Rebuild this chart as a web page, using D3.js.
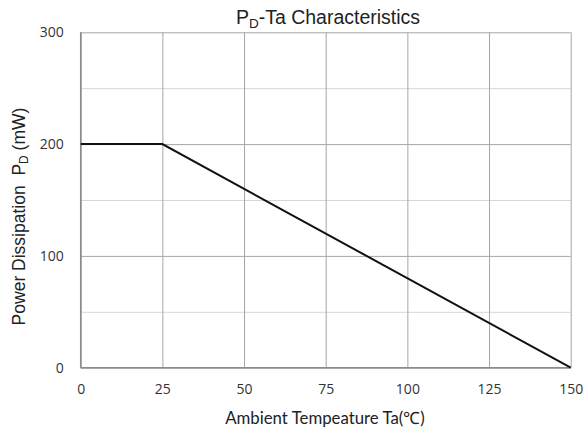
<!DOCTYPE html>
<html>
<head>
<meta charset="utf-8">
<script src="https://cdn.jsdelivr.net/npm/d3@7"></script>
<style>
  body { margin: 0; background: #fff; }
  .tick text { fill: #333; }
</style>
</head>
<body>
<div class="chart"></div>
<script>
// derating curve
const temps = [0, 25, 150];
const power = [200, 200, 0];
const xTicks = [0, 25, 50, 75, 100, 125, 150];
const yTicks = [0, 100, 200, 300];
const yGrid = [50, 150, 250];

const svgWidth = 586;
const svgHeight = 433;
const margin = { top: 32.3, right: 15.3, bottom: 65.3, left: 80.7 };
const width = svgWidth - margin.left - margin.right;
const height = svgHeight - margin.top - margin.bottom;

const svg = d3.select('.chart')
    .append('svg')
    .attr('width', svgWidth)
    .attr('height', svgHeight);

const g = svg.append('g')
    .attr('transform', `translate(${margin.left},${margin.top})`);

const x = d3.scaleLinear().domain([0, 150]).range([0, width]);
const y = d3.scaleLinear().domain([0, 300]).range([height, 0]);

// minor horizontal grid
g.append('g')
    .call(d3.axisLeft(y).tickValues(yGrid).tickSize(-width).tickFormat(''))
    .call(a => a.select('.domain').remove())
    .selectAll('line').attr('stroke', '#d6d6d6');

// major horizontal grid
g.append('g')
    .call(d3.axisLeft(y).tickValues(yTicks).tickSize(-width).tickFormat(''))
    .call(a => a.select('.domain').remove())
    .selectAll('line').attr('stroke', '#a6a6a6');

// vertical grid
g.append('g')
    .attr('transform', `translate(0,${height})`)
    .call(d3.axisBottom(x).tickValues(xTicks).tickSize(-height).tickFormat(''))
    .call(a => a.select('.domain').remove())
    .selectAll('line').attr('stroke', '#a6a6a6');

// axis lines
g.append('line').attr('x1', 0).attr('x2', 0).attr('y1', 0).attr('y2', height)
    .attr('stroke', '#8c8c8c').attr('stroke-width', 1.5);
g.append('line').attr('x1', 0).attr('x2', width).attr('y1', height).attr('y2', height)
    .attr('stroke', '#8c8c8c').attr('stroke-width', 1.5);

// tick labels
g.append('g')
    .attr('transform', `translate(0,${height})`)
    .call(d3.axisBottom(x).tickValues(xTicks).tickSize(0).tickPadding(16))
    .call(a => a.select('.domain').remove())
    .selectAll('text')
    .style('font-family', 'Open Sans')
    .style('font-size', '14px');

g.append('g')
    .call(d3.axisLeft(y).tickValues(yTicks).tickSize(0).tickPadding(17))
    .call(a => a.select('.domain').remove())
    .selectAll('text')
    .style('font-family', 'Open Sans')
    .style('font-size', '14px');

// the curve
const line = d3.line()
    .x((d, i) => x(temps[i]))
    .y(d => y(d));

g.append('path')
    .datum(power)
    .attr('d', line)
    .attr('fill', 'none')
    .attr('stroke', '#111')
    .attr('stroke-width', 2);

// title
const title = svg.append('text')
    .attr('x', 328)
    .attr('y', 23.5)
    .attr('text-anchor', 'middle')
    .style('font-family', 'Liberation Sans')
    .style('font-size', '19.5px')
    .attr('fill', '#222');
title.append('tspan').text('P');
title.append('tspan').text('D').attr('dy', 4).style('font-size', '13.5px');
title.append('tspan').text('-Ta Characteristics').attr('dy', -4);

// x axis title
svg.append('text')
    .attr('x', 325)
    .attr('y', 423.5)
    .attr('text-anchor', 'middle')
    .style('font-family', 'Lato')
    .style('font-size', '16.8px')
    .attr('fill', '#222')
    .text('Ambient Tempeature Ta(℃)');

// y axis title
const yTitle = svg.append('text')
    .attr('transform', 'translate(25,216.5) rotate(-90)')
    .attr('text-anchor', 'middle')
    .style('font-family', 'Liberation Sans')
    .style('font-size', '17.5px')
    .attr('fill', '#222')
    .attr('xml:space', 'preserve');
yTitle.append('tspan').text('Power Dissipation  P');
yTitle.append('tspan').text('D').attr('dy', 3).style('font-size', '12px');
yTitle.append('tspan').text(' (mW)').attr('dy', -3);
</script>
</body>
</html>
